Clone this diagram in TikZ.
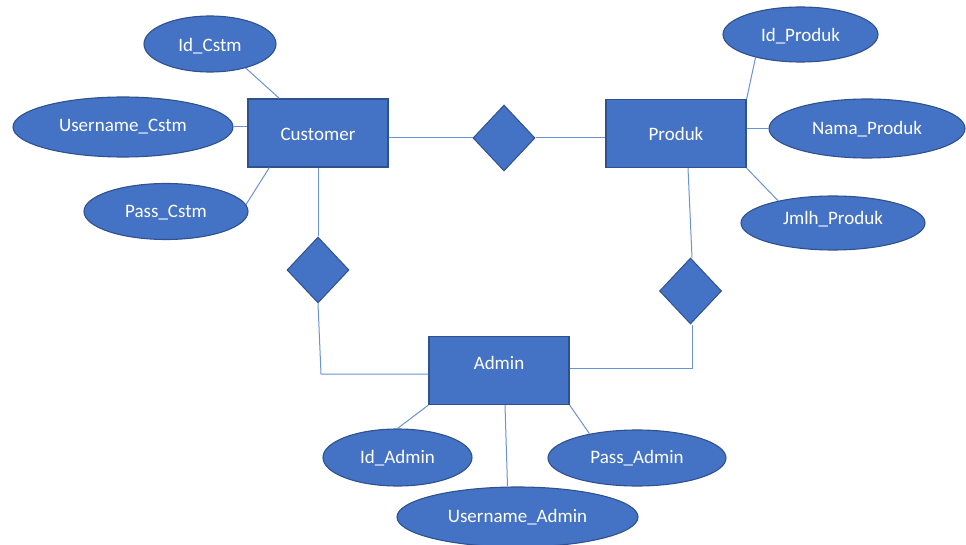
\documentclass[tikz,border=0pt]{standalone}
\usepackage{fontspec}
\setmainfont{Carlito}
\usetikzlibrary{shapes.geometric}
\definecolor{fillblue}{HTML}{4472C4}
\definecolor{edgeblue}{HTML}{2F528F}
\definecolor{lineblue}{HTML}{6A92D4}
\begin{document}
\begin{tikzpicture}[x=1pt,y=-1pt,
  entity/.style={draw=edgeblue,line width=1.3pt,fill=fillblue,minimum width=140pt,minimum height=68pt,inner sep=0pt},
  attr/.style={ellipse,draw=edgeblue,line width=1.1pt,fill=fillblue,inner sep=0pt},
  rel/.style={diamond,draw=edgeblue,line width=1pt,fill=fillblue,minimum width=62pt,minimum height=66pt,inner sep=0pt},
  lbl/.style={text=white,font=\fontsize{19}{21}\selectfont},
  conn/.style={draw=lineblue,line width=1pt}]
\useasboundingbox (0,0) rectangle (966,545);
% entities
\node[entity] (cust) at (318,133) {};
\node[lbl] at (318,134) {Customer};
\node[entity] (prod) at (676,133.5) {};
\node[lbl] at (676,134) {Produk};
\node[entity] (admin) at (499,370.5) {};
\node[lbl] at (499,363) {Admin};
% relationships
\node[rel] (r1) at (504,138) {};
\node[rel] (r2) at (318,270) {};
\node[rel] (r3) at (690.5,291) {};
% attributes
\node[attr,minimum width=132pt,minimum height=56pt] (idc) at (210,44) {};
\node[lbl] at (210,46) {Id\_Cstm};
\node[attr,minimum width=220pt,minimum height=60pt] (unc) at (123,127) {};
\node[lbl] at (123,127) {Username\_Cstm};
\node[attr,minimum width=164pt,minimum height=56pt] (pc) at (166,211.5) {};
\node[lbl] at (166,213) {Pass\_Cstm};
\node[attr,minimum width=155pt,minimum height=55pt] (idp) at (800.5,34.5) {};
\node[lbl] at (800.5,36) {Id\_Produk};
\node[attr,minimum width=196pt,minimum height=59pt] (np) at (867,128.5) {};
\node[lbl] at (867,129) {Nama\_Produk};
\node[attr,minimum width=184pt,minimum height=54pt] (jp) at (833,223) {};
\node[lbl] at (833,219) {Jmlh\_Produk};
\node[attr,minimum width=149pt,minimum height=57pt] (ida) at (397.5,457.5) {};
\node[lbl] at (397.5,458) {Id\_Admin};
\node[attr,minimum width=241pt,minimum height=60pt] (una) at (517.5,517) {};
\node[lbl] at (517.5,517) {Username\_Admin};
\node[attr,minimum width=178pt,minimum height=56pt] (pa) at (637,458) {};
\node[lbl] at (637,458) {Pass\_Admin};
% coordinates for connector corners
\coordinate (c1) at (321,374);
\coordinate (c2) at (692,368);
% connectors
\draw[conn] (idc.-34) -- ([xshift=32pt]cust.north west);
\draw[conn] (unc.east) -- (cust.west |- unc.east);
\draw[conn] (pc.5) -- ([xshift=22pt]cust.south west);
\draw[conn] (cust.east |- r1.west) -- (r1.west);
\draw[conn] (r1.east) -- (prod.west |- r1.east);
\draw[conn] (cust.south) -- (r2.north);
\draw[conn] (r2.south) -- (c1) -- (admin.west |- c1);
\draw[conn] (prod.north east) -- (idp.-153);
\draw[conn] (prod.east |- np.west) -- (np.west);
\draw[conn] (prod.south east) -- (jp.158);
\draw[conn] ([xshift=12pt]prod.south) -- ([xshift=1.5pt]r3.north);
\draw[conn] ([xshift=1.5pt]r3.south) -- (c2) -- (admin.east |- c2);
\draw[conn] (admin.south west) -- (ida.90);
\draw[conn] ([xshift=6pt]admin.south) -- ([xshift=-10pt]una.north);
\draw[conn] (admin.south east) -- (pa.153);
\end{tikzpicture}
\end{document}
